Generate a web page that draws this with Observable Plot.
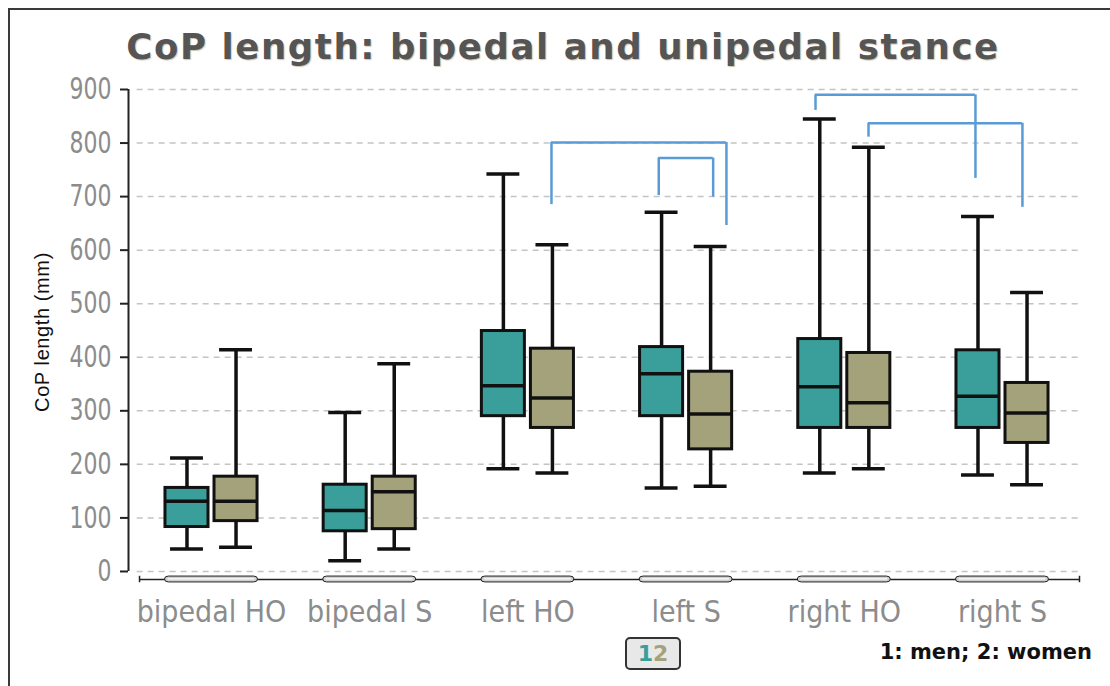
<!DOCTYPE html>
<html>
<head>
<meta charset="utf-8">
<script src="https://cdn.jsdelivr.net/npm/d3@7"></script>
<script src="https://cdn.jsdelivr.net/npm/@observablehq/plot@0.6"></script>
<style>
  html, body { margin: 0; padding: 0; background: #fff; }
  #wrap { position: relative; width: 1110px; height: 686px; overflow: hidden; background: #fff; }
  #frame { position: absolute; left: 8px; top: 8px; width: 1110px; height: 676px;
           border-left: 2px solid #3a3a3a; border-top: 2px solid #3a3a3a; border-bottom: 1px solid #cfcfcf; }
  #chart { position: absolute; left: 0; top: 0; }
  #title { position: absolute; left: 0; width: 1126px; top: 26px; text-align: center;
           font-family: "DejaVu Sans", Verdana, sans-serif; font-weight: bold; font-size: 35.5px; letter-spacing: 1.6px;
           color: #555; text-shadow: 1px 1px 1px rgba(120,90,40,0.35); }
  #ylabel { position: absolute; left: 42px; top: 332px; transform: translate(-50%, -50%) rotate(-90deg);
            font-family: "Liberation Sans", Arial, sans-serif; font-size: 20px; letter-spacing: 0.6px; color: #111; white-space: nowrap; }
  #legbox { position: absolute; left: 625px; top: 637px; width: 52px; height: 29px; border: 2px solid #333;
            border-radius: 5px; background: #e8e8e8; text-align: center; line-height: 30px;
            font-family: "DejaVu Sans", Verdana, sans-serif; font-weight: bold; font-size: 22px; }
  #legtext { position: absolute; right: 18px; top: 640px; font-family: "DejaVu Sans", Verdana, sans-serif;
             font-weight: bold; font-size: 21px; color: #111; white-space: nowrap; }
</style>
</head>
<body>
<div id="wrap">
  <div id="frame"></div>
  <div id="chart"></div>
  <div id="title">CoP length: bipedal and unipedal stance</div>
  <div id="ylabel">CoP length (mm)</div>
  <div id="legbox"><span style="color:#3a9e9a">1</span><span style="color:#a3a27a">2</span></div>
  <div id="legtext">1: men; 2: women</div>
</div>
<script>
// ---- data ----
const groups = ["bipedal HO", "bipedal S", "left HO", "left S", "right HO", "right S"];
const sexes = ["men", "women"];
const menMin    = [42, 20, 192, 156, 184, 180];
const menQ1     = [83, 75, 290, 290, 268, 268];
const menMedian = [131, 114, 347, 369, 345, 327];
const menQ3     = [156, 162, 449, 419, 434, 413];
const menMax    = [212, 297, 742, 671, 845, 663];
const womenMin    = [45, 42, 184, 159, 192, 162];
const womenQ1     = [94, 79, 268, 228, 268, 240];
const womenMedian = [131, 149, 324, 294, 315, 296];
const womenQ3     = [177, 177, 416, 373, 408, 352];
const womenMax    = [414, 388, 610, 607, 792, 521];
const yTicks = [0, 100, 200, 300, 400, 500, 600, 700, 800, 900];
// significance brackets (x in category units, y in mm)
const bracketX1 = [2.149, 2.827, 3.818, 4.153];
const bracketX2 = [3.255, 3.171, 4.829, 5.126];
const bracketTop = [801, 772, 890, 837];
const bracketLeftEnd = [685, 702, 861, 811];
const bracketRightEnd = [646, 699, 734, 680];

// ---- layout constants ----
const offset = {men: -0.155, women: 0.155};
const boxHalf = 0.136, capHalf = 0.104, pillHalf = 0.294;
const xMin = -0.5247, xMax = 5.4867, axisStart = -0.455;
const colors = {men: "#3a9e9a", women: "#a3a27a"};

const stats = {
  men: {min: menMin, q1: menQ1, med: menMedian, q3: menQ3, max: menMax},
  women: {min: womenMin, q1: womenQ1, med: womenMedian, q3: womenQ3, max: womenMax}
};
const rows = [];
groups.forEach((g, i) => sexes.forEach(s => {
  const st = stats[s];
  rows.push({group: g, sex: s, x: i + offset[s], min: st.min[i], q1: st.q1[i], med: st.med[i], q3: st.q3[i], max: st.max[i]});
}));
const brackets = bracketTop.map((t, k) => ({x1: bracketX1[k], x2: bracketX2[k], top: t, lo1: bracketLeftEnd[k], lo2: bracketRightEnd[k]}));
const gIdx = d3.range(groups.length);

const narrow = '"Liberation Sans Narrow", "DejaVu Sans Condensed", "Roboto Condensed", "Liberation Sans", sans-serif';

const chart = Plot.plot({
  width: 1110, height: 686,
  marginLeft: 128, marginRight: 31, marginTop: 89, marginBottom: 107,
  x: {domain: [xMin, xMax]},
  y: {domain: [-15, 900]},
  style: {background: "transparent", overflow: "visible"},
  marks: [
    Plot.ruleY(yTicks, {x1: -0.47, x2: xMax, stroke: "#c4c4c4", strokeWidth: 1.5, strokeDasharray: "6,5"}),
    Plot.ruleX([xMin], {y1: 0, y2: 900, stroke: "#222", strokeWidth: 2}),
    Plot.axisY({ticks: yTicks, tickSize: 8, tickPadding: 9, tickFormat: d => d, stroke: "#222",
                strokeWidth: 2, fontSize: 30, fill: "#8c8c8c", fontFamily: narrow, label: null}),
    Plot.axisX({ticks: gIdx, tickFormat: i => groups[i], tickSize: 0, tickPadding: 21, fontSize: 30,
                fill: "#8c8c8c", fontFamily: narrow, label: null}),
    // x axis line with pills
    Plot.ruleY([-15], {x1: axisStart, x2: xMax, stroke: "#222", strokeWidth: 1.5}),
    Plot.ruleX([axisStart, xMax], {y1: -21, y2: -9, stroke: "#222", strokeWidth: 1.5}),
    Plot.rect(gIdx, {x1: i => i - pillHalf, x2: i => i + pillHalf, y1: -20.5, y2: -9.5, rx: 4,
                     fill: "#cfcfcf", stroke: "#222", strokeWidth: 1}),
    Plot.ruleY(gIdx, {x1: i => i - pillHalf + 0.02, x2: i => i + pillHalf - 0.02, y: -14, stroke: "#fff", strokeWidth: 1.2}),
    // whiskers
    Plot.ruleX(rows, {x: "x", y1: "q3", y2: "max", stroke: "#111", strokeWidth: 3.5}),
    Plot.ruleX(rows, {x: "x", y1: "min", y2: "q1", stroke: "#111", strokeWidth: 3.5}),
    Plot.ruleY(rows, {y: "max", x1: d => d.x - capHalf, x2: d => d.x + capHalf, stroke: "#111", strokeWidth: 3.5}),
    Plot.ruleY(rows, {y: "min", x1: d => d.x - capHalf, x2: d => d.x + capHalf, stroke: "#111", strokeWidth: 3.5}),
    // boxes
    Plot.rect(rows, {x1: d => d.x - boxHalf, x2: d => d.x + boxHalf, y1: "q1", y2: "q3",
                     fill: d => colors[d.sex], stroke: "#111", strokeWidth: 3}),
    Plot.ruleY(rows, {y: "med", x1: d => d.x - boxHalf, x2: d => d.x + boxHalf, stroke: "#111", strokeWidth: 3.5}),
    // brackets
    Plot.ruleY(brackets, {y: "top", x1: "x1", x2: "x2", stroke: "#5b9bd5", strokeWidth: 2.5}),
    Plot.ruleX(brackets, {x: "x1", y1: "lo1", y2: "top", stroke: "#5b9bd5", strokeWidth: 2.5}),
    Plot.ruleX(brackets, {x: "x2", y1: "lo2", y2: "top", stroke: "#5b9bd5", strokeWidth: 2.5})
  ]
});
// condense the y tick labels to match the narrow face of the reference
d3.select(chart).selectAll('g[aria-label="y-axis tick label"] text').each(function() {
  const t = this.textContent;
  this.setAttribute("textLength", t.length * 14);
  this.setAttribute("lengthAdjust", "spacingAndGlyphs");
});
document.getElementById("chart").appendChild(chart);
</script>
</body>
</html>
